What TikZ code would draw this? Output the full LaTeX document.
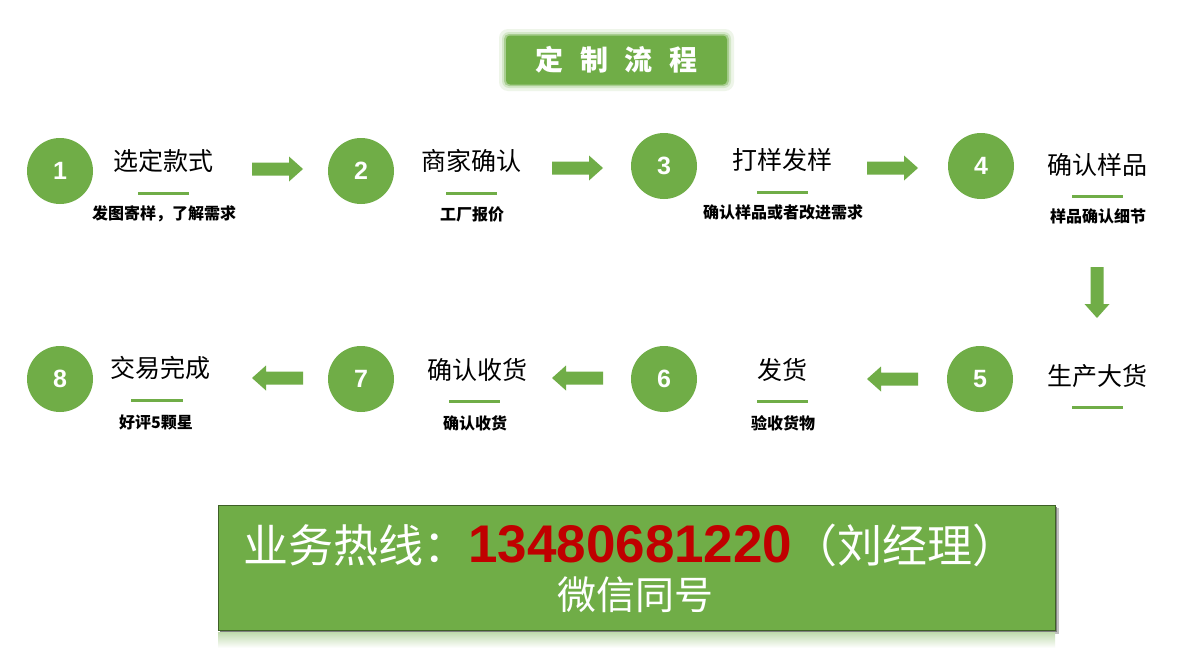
\documentclass[tikz,border=0pt]{standalone}
\usepackage{fontspec}
\setmainfont{Liberation Sans}
\newfontfamily\cjk{Noto Sans CJK SC}
\usetikzlibrary{calc}
\definecolor{grn}{HTML}{70AD47}
\definecolor{darkred}{HTML}{C00000}
\tikzset{
  num/.style={circle, fill=grn, minimum size=66pt, inner sep=0pt, text=white,
    font=\bfseries\fontsize{25}{25}\selectfont},
  ttl/.style={inner sep=0pt, text=black, font=\cjk\fontsize{25}{28}\selectfont},
  sub/.style={inner sep=0pt, text=black, font=\cjk\bfseries\fontsize{16}{18}\selectfont},
  uline/.style={draw=grn, line width=3pt},
  blockarrow/.style={fill=grn},
}
\newcommand{\blkarrow}[2]{% coordinate name, rotation
  \fill[blockarrow, shift={(#1)}, rotate=#2]
    (-25.5,-6.5) -- (11.5,-6.5) -- (11.5,-12.5) -- (25.5,0) -- (11.5,12.5) -- (11.5,6.5) -- (-25.5,6.5) -- cycle;}
\begin{document}
\begin{tikzpicture}[x=1pt,y=-1pt]
\useasboundingbox (0,0) rectangle (1178,648);
\fill[white] (0,0) rectangle (1178,648);

% title box with glow
\fill[grn!12, rounded corners=9] (499,29) rectangle (734,91);
\fill[grn!30, rounded corners=7] (502,32) rectangle (731,88);
\fill[grn!60, rounded corners=5] (504,34) rectangle (729,86);
\node[fill=grn, rounded corners=4, minimum width=221pt, minimum height=49pt, inner sep=0pt,
  text=white, font=\cjk\bfseries\fontsize{28}{30}\selectfont] (title) at (616.5,60)
  {定\hspace{17pt}制\hspace{17pt}流\hspace{17pt}程};

% steps row 1
\node[num] (c1) at (60,171) {1};
\node[ttl] (t1) at (163,161) {选定款式};
\draw[uline] (138,193) -- (189,193);
\node[sub] (s1) at (164,214) {发图寄样，了解需求};

\node[num] (c2) at (361,171) {2};
\node[ttl] (t2) at (471,161) {商家确认};
\draw[uline] (446,193) -- (497,193);
\node[sub] (s2) at (472,214) {工厂报价};

\node[num] (c3) at (664,166) {3};
\node[ttl] (t3) at (782,160) {打样发样};
\draw[uline] (757,192) -- (808,192);
\node[sub] (s3) at (783,212) {确认样品或者改进需求};

\node[num] (c4) at (981,166) {4};
\node[ttl] (t4) at (1097,165) {确认样品};
\draw[uline] (1072,196) -- (1123,196);
\node[sub] (s4) at (1098,216) {样品确认细节};

% steps row 2
\node[num] (c5) at (980,379) {5};
\node[ttl] (t5) at (1097,376) {生产大货};
\draw[uline] (1072,407) -- (1123,407);

\node[num] (c6) at (664,379) {6};
\node[ttl] (t6) at (782,370) {发货};
\draw[uline] (757,401) -- (808,401);
\node[sub] (s6) at (783,423) {验收货物};

\node[num] (c7) at (361,379) {7};
\node[ttl] (t7) at (477,370) {确认收货};
\draw[uline] (449,401) -- (500,401);
\node[sub] (s7) at (475,423) {确认收货};

\node[num] (c8) at (60,379) {8};
\node[ttl] (t8) at (160,368) {交易完成};
\draw[uline] (131,400) -- (183,400);
\node[sub] (s8) at (156,422) {好评5颗星};

% block arrows
\coordinate (a12) at (277.5,169);
\coordinate (a23) at (577.5,168);
\coordinate (a34) at (892.5,168);
\coordinate (a45) at (1097,292.5);
\coordinate (a56) at (892.5,379);
\coordinate (a67) at (577.5,378);
\coordinate (a78) at (277.5,378);
\blkarrow{a12}{0}
\blkarrow{a23}{0}
\blkarrow{a34}{0}
\blkarrow{a45}{-90}
\blkarrow{a56}{180}
\blkarrow{a67}{180}
\blkarrow{a78}{180}

% hotline box
\fill[black!25] (221,508) rectangle (1059,634);
\fill[black!50] (220,507) rectangle (1057,632);
\shade[top color=grn!45, bottom color=white] (218,632) rectangle (1055,648);
\node[fill=grn, draw=black!45!grn, line width=0.8pt, minimum width=837pt, minimum height=125pt,
  inner sep=0pt] (hot) at (636.5,567.5) {};
\node[anchor=base west, inner sep=0pt, text=white] (line1) at (243,562)
  {{\cjk\fontsize{45}{50}\selectfont 业务热线：}{\color{darkred}\bfseries\fontsize{53}{57}\selectfont 13480681220}{\cjk\fontsize{45}{50}\selectfont （刘经理）}};
\node[inner sep=0pt, text=white, font=\cjk\fontsize{39}{42}\selectfont] (line2) at (635,595) {微信同号};
\end{tikzpicture}
\end{document}
